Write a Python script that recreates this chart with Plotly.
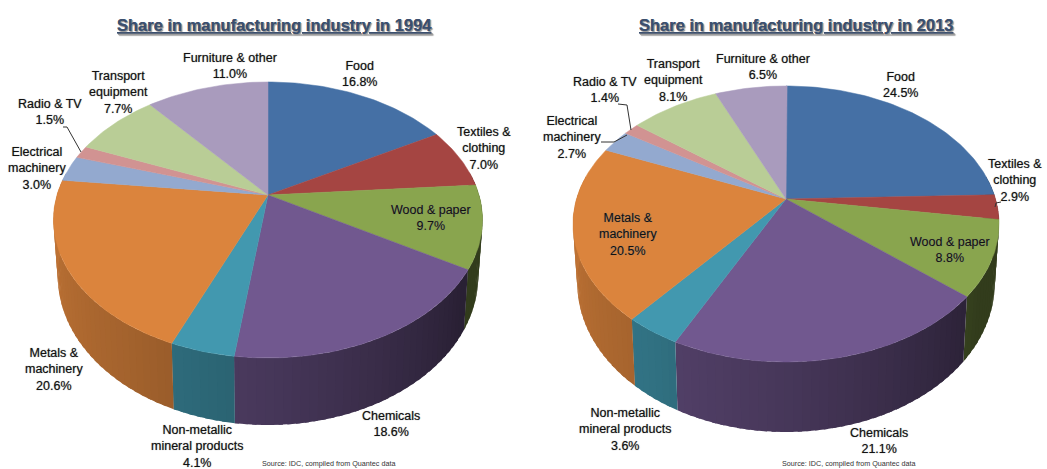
import numpy as np
import plotly.graph_objects as go

# data
categories = ["Food", "Textiles &<br>clothing", "Wood & paper", "Chemicals", "Non-metallic<br>mineral products",
              "Metals &<br>machinery", "Electrical<br>machinery", "Radio & TV", "Transport<br>equipment", "Furniture & other"]
share_1994 = [16.8, 7.0, 9.7, 18.6, 4.1, 20.6, 3.0, 1.5, 7.7, 11.0]
share_2013 = [24.5, 2.9, 8.8, 21.1, 3.6, 20.5, 2.7, 1.4, 8.1, 6.5]
title_1994 = "Share in manufacturing industry in 1994"
title_2013 = "Share in manufacturing industry in 2013"
source_text = "Source: IDC, compiled from Quantec data"

# styles
colors = [(69, 112, 165), (165, 69, 66), (137, 165, 78), (113, 88, 143), (66, 152, 175),
          (219, 132, 61), (147, 169, 207), (209, 147, 146), (185, 205, 150), (169, 155, 189)]
label_pos_1994 = [(359, 74), (484, 148), (431, 218), (391, 424), (197, 446),
                  (54, 369), (37, 168), (50, 112), (118, 92), (230, 66)]
label_pos_2013 = [(900, 85), (1015, 180), (950, 250), (879, 441), (625, 429),
                  (628, 234), (572, 137), (605, 90), (673, 80), (763, 67)]
leaders = [[(63, 127), (67, 127), (81, 152)],
           [(618, 104), (627, 105), (631, 130)],
           [(601, 142), (614, 142), (627, 135)],
           [(995, 207), (996, 203), (1001, 202)]]

K = 0.181  # perspective of the tilted disc
A = 133.5


def rim(theta, cx, cy, R, depth=None):
    # theta in degrees, clockwise from 12 o'clock, disc seen in perspective
    t = np.radians(theta)
    w = 1 + K * np.cos(t)
    x = R * np.sin(t) / w
    y = -A * np.cos(t) / w
    if depth is not None:
        return cx + 0.98 * x, cy + depth + 1.08 * y
    return cx + x, cy + y


def rgb(c, f=1.0):
    return "rgb(%d,%d,%d)" % tuple(int(v * f) for v in c)


def add_poly(fig, x, y, color, name, width=0.0):
    fig.add_trace(go.Scatter(x=x, y=y, mode="lines", fill="toself", fillcolor=color,
                             line=dict(color=color, width=width), name=name,
                             hoverinfo="name", showlegend=False))


def add_pie(fig, values, cx, cy, R, depth):
    edges = np.cumsum([0] + values) * 3.6
    # side wall first, the top face covers the rest
    for i, v in enumerate(values):
        a0, a1 = edges[i], edges[i + 1]
        lo, hi = max(a0, 80), min(a1, 280)
        if hi <= lo:
            continue
        steps = np.arange(lo, hi, 2.0).tolist() + [hi]
        for s0, s1 in zip(steps[:-1], steps[1:]):
            # strips overlap a little so no seam shows between them
            s1b = min(s1 + 1.0, hi)
            tx, ty = rim(np.array([s0, s1b]), cx, cy, R)
            bx, by = rim(np.array([s1b, s0]), cx, cy, R, depth)
            f = np.interp((s0 + s1) / 2, [85, 125, 180, 215, 275], [0.36, 0.37, 0.63, 0.75, 0.9])
            add_poly(fig, list(tx) + list(bx), list(ty) + list(by), rgb(colors[i], f),
                     categories[i].replace("<br>", " "))
    for i, v in enumerate(values):
        th = np.linspace(edges[i], edges[i + 1], max(int(v * 3), 4))
        x, y = rim(th, cx, cy, R)
        add_poly(fig, [cx] + list(x) + [cx], [cy] + list(y) + [cy], rgb(colors[i]),
                 categories[i].replace("<br>", " "), width=0.5)


fig = go.Figure()
add_pie(fig, share_1994, 268, 195, 211, 54)
add_pie(fig, share_2013, 786, 199, 209.5, 57)

for line in leaders:
    fig.add_trace(go.Scatter(x=[p[0] for p in line], y=[p[1] for p in line], mode="lines",
                             line=dict(color="#333333", width=1), hoverinfo="skip", showlegend=False))

label_font = dict(family="Liberation Sans", size=12.5, color="#111111", shadow="0px 0px 1px #777777")
for values, positions in [(share_1994, label_pos_1994), (share_2013, label_pos_2013)]:
    for name, v, (lx, ly) in zip(categories, values, positions):
        fig.add_annotation(x=lx, y=ly, text="%s<br>%.1f%%" % (name, v), showarrow=False,
                           font=label_font, align="center")

title_font = dict(family="Liberation Sans", size=16.5, color="#3b4f6e", lineposition="under",
                  shadow="1px 1px 1px #9a9a9a")
fig.add_annotation(x=274, y=25, text="<b>%s</b>" % title_1994, showarrow=False, font=title_font)
fig.add_annotation(x=796, y=25, text="<b>%s</b>" % title_2013, showarrow=False, font=title_font)

source_font = dict(family="Liberation Sans", size=7.2, color="#333333")
fig.add_annotation(x=328, y=463, text=source_text, showarrow=False, font=source_font)
fig.add_annotation(x=848, y=463, text=source_text, showarrow=False, font=source_font)

fig.update_xaxes(range=[0, 1047], visible=False, fixedrange=True)
fig.update_yaxes(range=[469, 0], visible=False, fixedrange=True)
fig.update_layout(width=1047, height=469, margin=dict(l=0, r=0, t=0, b=0),
                  plot_bgcolor="white", paper_bgcolor="white", hovermode="closest")
# the page's default body margin would push the plot in and clip its right edge
fig.write_html("out.html", config={"displayModeBar": False},
               post_script="document.body.style.margin = '0';")
